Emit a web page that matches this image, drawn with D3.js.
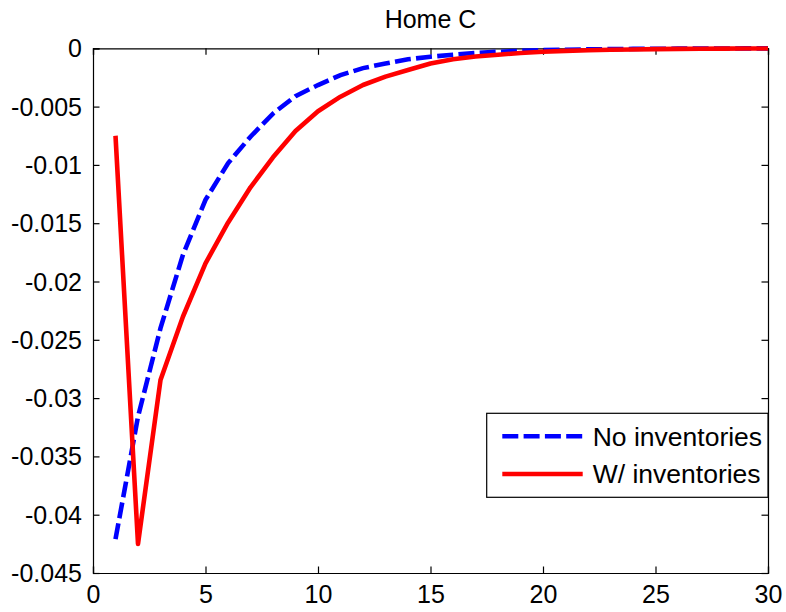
<!DOCTYPE html>
<html>
<head>
<meta charset="utf-8">
<script src="https://cdn.jsdelivr.net/npm/d3@7"></script>
<style>
  html, body { margin: 0; padding: 0; background: #fff; }
  svg { display: block; }
  text { font-family: "Liberation Sans", Arial, sans-serif; fill: #000; }
</style>
</head>
<body>
<div id="chart"></div>
<script>
const periods = d3.range(1, 31);
const noInventories = [
  -0.0421, -0.0316, -0.0240, -0.0177, -0.0130, -0.00986, -0.00758, -0.0056, -0.0041, -0.00315,
  -0.0023, -0.0017, -0.0013, -0.00094, -0.00072, -0.00055, -0.0004, -0.0003, -0.00022, -0.00016,
  -0.00012, -0.00009, -0.00007, -0.00005, -0.00004, -0.00003, -0.00002, -0.00002, -0.00001, -0.00001
];
const withInventories = [
  -0.0075, -0.0425, -0.02845, -0.0230, -0.01844, -0.01496, -0.01192, -0.00935, -0.0071, -0.0054,
  -0.00415, -0.00315, -0.00243, -0.00186, -0.0013, -0.00094, -0.0007, -0.00055, -0.0004, -0.0003,
  -0.00022, -0.00017, -0.00013, -0.0001, -0.00007, -0.00005, -0.00004, -0.00003, -0.00002, -0.00002
];
const xTicks = [0, 5, 10, 15, 20, 25, 30];
const yTicks = [0, -0.005, -0.01, -0.015, -0.02, -0.025, -0.03, -0.035, -0.04, -0.045];
const yTickLabels = ["0", "-0.005", "-0.01", "-0.015", "-0.02", "-0.025", "-0.03", "-0.035", "-0.04", "-0.045"];
const seriesNames = ["No inventories", "W/ inventories"];
const titleText = "Home C";

const W = 786, H = 612;
const m = { left: 93, right: 18, top: 48.3, bottom: 39 };
const svg = d3.select("#chart").append("svg").attr("width", W).attr("height", H);

const x = d3.scaleLinear().domain([0, 30]).range([m.left, W - m.right]);
const y = d3.scaleLinear().domain([-0.045, 0]).range([H - m.bottom, m.top]);
const fs = 25;
const legendFs = 26.5;
const tickLen = 6.5;

const x0 = x.range()[0], x1 = x.range()[1], y0 = y.range()[0], y1 = y.range()[1];

const bottomAxis = d3.axisBottom(x).tickValues(xTicks).tickSize(-tickLen).tickPadding(12).tickFormat(d3.format("d"));
const gB = svg.append("g").attr("transform", `translate(0,${y0})`).call(bottomAxis);
const gT = svg.append("g").attr("transform", `translate(0,${y1})`).call(d3.axisTop(x).tickValues(xTicks).tickSize(-tickLen).tickFormat(""));
const leftAxis = d3.axisLeft(y).tickValues(yTicks).tickSize(-tickLen).tickPadding(11)
  .tickFormat((d, i) => yTickLabels[i]);
const gL = svg.append("g").attr("transform", `translate(${x0},0)`).call(leftAxis);
const gR = svg.append("g").attr("transform", `translate(${x1},0)`).call(d3.axisRight(y).tickValues(yTicks).tickSize(-tickLen).tickFormat(""));

[gB, gT, gL, gR].forEach(g => {
  g.select(".domain").attr("stroke", "#000").attr("stroke-width", 1.2);
  g.selectAll(".tick line").attr("stroke", "#000").attr("stroke-width", 1.2);
  g.selectAll(".tick text").attr("font-size", fs).attr("font-family", "Liberation Sans, Arial, sans-serif").attr("fill", "#000");
});
gB.selectAll(".tick text").attr("dy", "0.71em");
gL.selectAll(".tick text").attr("dy", "0.34em");

svg.append("text").attr("x", (x0 + x1) / 2).attr("y", 28).attr("text-anchor", "middle")
  .attr("font-size", fs).text(titleText);

const line = d3.line().x((d, i) => x(periods[i])).y(d => y(d));
svg.append("path").datum(noInventories).attr("d", line)
  .attr("fill", "none").attr("stroke", "#0000ff").attr("stroke-width", 4.6)
  .attr("stroke-dasharray", "16,5.3");
svg.append("path").datum(withInventories).attr("d", line)
  .attr("fill", "none").attr("stroke", "#ff0000").attr("stroke-width", 4.6)
  .attr("stroke-linejoin", "round");

const lg = svg.append("g");
lg.append("rect").attr("x", 486.7).attr("y", 413.3).attr("width", x1 - 486.7).attr("height", 84)
  .attr("fill", "#fff").attr("stroke", "#000").attr("stroke-width", 1.2);
const legendItems = [
  { name: seriesNames[0], color: "#0000ff", dash: "16,5.3", yy: 436.3 },
  { name: seriesNames[1], color: "#ff0000", dash: null, yy: 474 }
];
legendItems.forEach(it => {
  lg.append("line").attr("x1", 502.3).attr("x2", 582.7).attr("y1", it.yy).attr("y2", it.yy)
    .attr("stroke", it.color).attr("stroke-width", 4.6).attr("stroke-dasharray", it.dash);
  lg.append("text").attr("x", 592.7).attr("y", it.yy).attr("dy", "0.35em")
    .attr("font-size", legendFs).text(it.name);
});
</script>
</body>
</html>
